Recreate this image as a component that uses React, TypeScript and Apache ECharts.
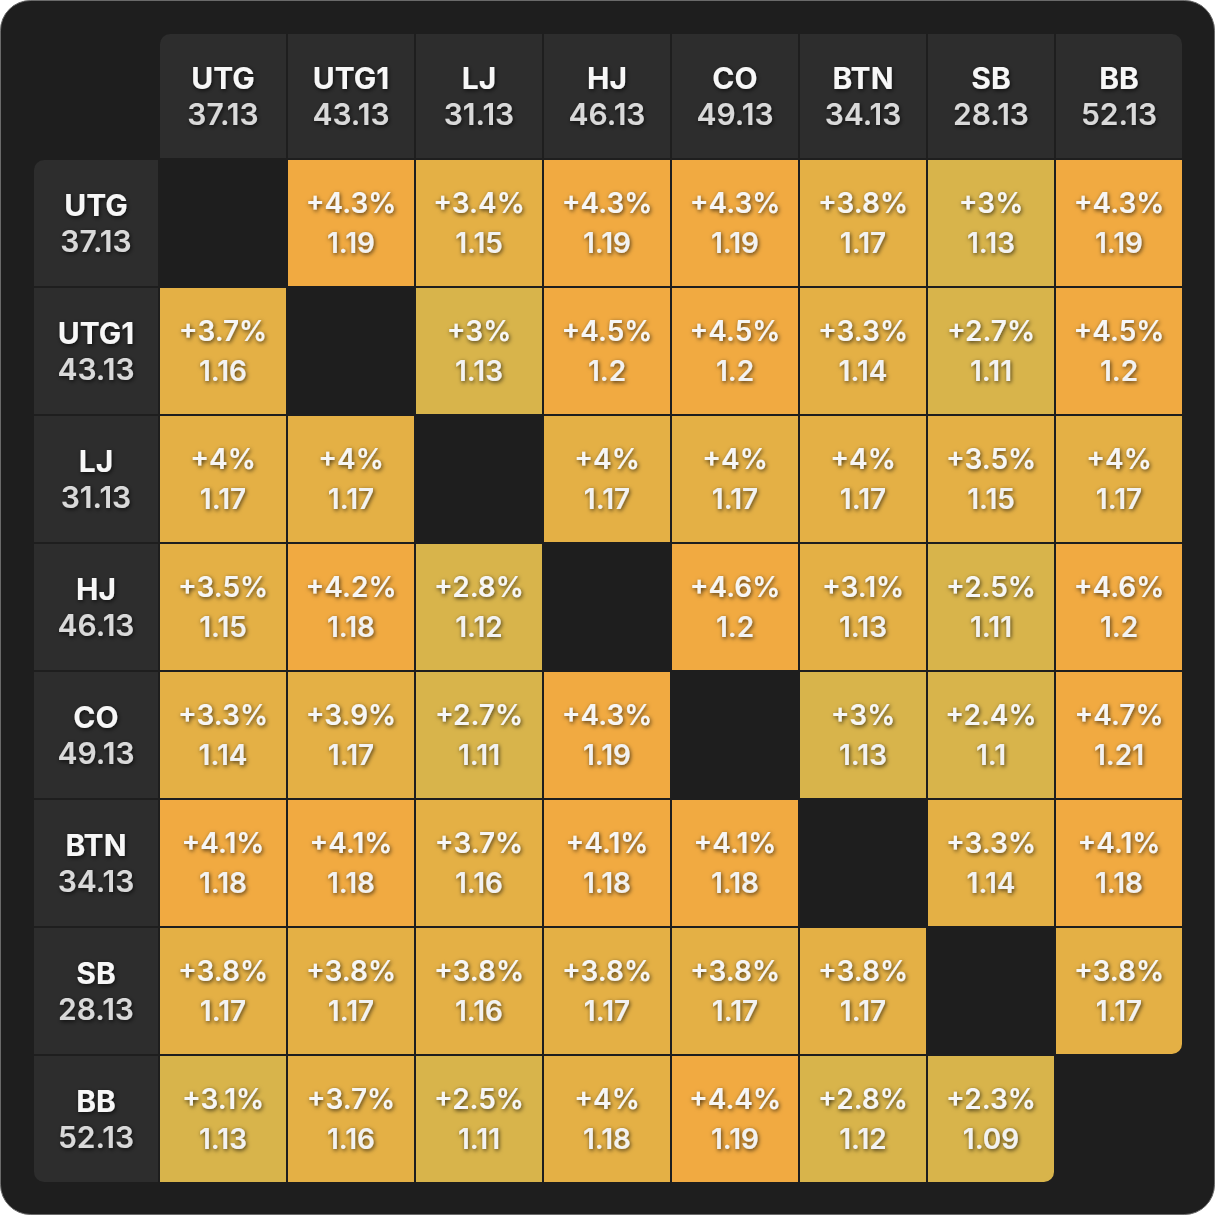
import React, { useEffect, useRef } from "react";
import * as echarts from "echarts";

const positions = ["UTG", "UTG1", "LJ", "HJ", "CO", "BTN", "SB", "BB"];
const stacks = ["37.13", "43.13", "31.13", "46.13", "49.13", "34.13", "28.13", "52.13"];

// rows = hero position, columns = opponent position
const pctRows: (number | null)[][] = [
  [null, 4.3, 3.4, 4.3, 4.3, 3.8, 3, 4.3],
  [3.7, null, 3, 4.5, 4.5, 3.3, 2.7, 4.5],
  [4, 4, null, 4, 4, 4, 3.5, 4],
  [3.5, 4.2, 2.8, null, 4.6, 3.1, 2.5, 4.6],
  [3.3, 3.9, 2.7, 4.3, null, 3, 2.4, 4.7],
  [4.1, 4.1, 3.7, 4.1, 4.1, null, 3.3, 4.1],
  [3.8, 3.8, 3.8, 3.8, 3.8, 3.8, null, 3.8],
  [3.1, 3.7, 2.5, 4, 4.4, 2.8, 2.3, null],
];

const multRows: (string | null)[][] = [
  [null, "1.19", "1.15", "1.19", "1.19", "1.17", "1.13", "1.19"],
  ["1.16", null, "1.13", "1.2", "1.2", "1.14", "1.11", "1.2"],
  ["1.17", "1.17", null, "1.17", "1.17", "1.17", "1.15", "1.17"],
  ["1.15", "1.18", "1.12", null, "1.2", "1.13", "1.11", "1.2"],
  ["1.14", "1.17", "1.11", "1.19", null, "1.13", "1.1", "1.21"],
  ["1.18", "1.18", "1.16", "1.18", "1.18", null, "1.14", "1.18"],
  ["1.17", "1.17", "1.16", "1.17", "1.17", "1.17", null, "1.17"],
  ["1.13", "1.16", "1.11", "1.18", "1.19", "1.12", "1.09", null],
];

// colour tier: 0 = yellow, 1 = amber, 2 = orange
const tierRows: (number | null)[][] = [
  [null, 2, 1, 2, 2, 1, 0, 2],
  [1, null, 0, 2, 2, 1, 0, 2],
  [1, 1, null, 1, 1, 1, 1, 1],
  [1, 2, 0, null, 2, 1, 0, 2],
  [1, 1, 0, 2, null, 0, 0, 2],
  [2, 2, 1, 2, 2, null, 1, 2],
  [1, 1, 1, 1, 1, 1, null, 1],
  [0, 1, 0, 1, 2, 0, 0, null],
];

const tierColors = ["#d8b44b", "#e4b045", "#f1aa41"];

const FONT = "Inter, 'Noto Sans', sans-serif";
const shadow = {
  textShadowColor: "rgba(0,0,0,0.7)",
  textShadowBlur: 4,
  textShadowOffsetX: 1,
  textShadowOffsetY: 1.5,
};

function isEmpty(r: number, c: number) {
  if (r > 7 || c > 7) return true;
  return pctRows[r][c] === null;
}

export default function App() {
  const ref = useRef<HTMLDivElement>(null);
  useEffect(() => {
    document.body.style.margin = "0";
    const chart = echarts.init(ref.current!, undefined, { renderer: "svg" });

    const cellData: any[] = [];
    pctRows.forEach((row, r) =>
      row.forEach((v, c) => {
        if (v !== null) cellData.push([c, r, v, multRows[r][c], tierRows[r][c]]);
      })
    );
    const headerData: any[] = [];
    positions.forEach((_, i) => {
      headerData.push([i, 0, 0]); // column header
      headerData.push([0, i, 1]); // row header
    });

    const RAD = 10;

    chart.setOption({
      animation: false,
      graphic: [
        {
          type: "rect",
          z: -10,
          silent: true,
          shape: { x: 0.5, y: 0.5, width: 1214, height: 1214, r: 30 },
          style: { fill: "#1e1e1e", stroke: "#6a6a6a", lineWidth: 1 },
        },
      ],
      grid: { left: 159, top: 159, width: 1024, height: 1024 },
      xAxis: { type: "category", data: positions, show: false },
      yAxis: { type: "category", data: positions, inverse: true, show: false },
      series: [
        {
          type: "custom",
          clip: false,
          data: cellData,
          renderItem: (params: any, api: any) => {
            const c = api.value(0);
            const r = api.value(1);
            const v = api.value(2);
            const m = cellData[params.dataIndex][3];
            const t = api.value(4);
            const p = api.coord([c, r]);
            const s = api.size([1, 1]);
            const x = p[0] - s[0] / 2;
            const y = p[1] - s[1] / 2;
            const br = isEmpty(r, c + 1) && isEmpty(r + 1, c) && (c === 7 || r === 7) ? RAD : 0;
            return {
              type: "group",
              children: [
                {
                  type: "rect",
                  shape: { x: x + 1, y: y + 1, width: s[0] - 2, height: s[1] - 2, r: [0, 0, br, 0] },
                  style: { fill: tierColors[t] },
                },
                {
                  type: "text",
                  style: {
                    text: "+" + v + "%",
                    x: p[0],
                    y: p[1] - 20,
                    align: "center",
                    verticalAlign: "middle",
                    fill: "#f6f6f6",
                    font: `600 28px ${FONT}`,
                    ...shadow,
                  },
                },
                {
                  type: "text",
                  style: {
                    text: m,
                    x: p[0],
                    y: p[1] + 20,
                    align: "center",
                    verticalAlign: "middle",
                    fill: "#f2f2f2",
                    font: `600 28px ${FONT}`,
                    ...shadow,
                  },
                },
              ],
            };
          },
        },
        {
          type: "custom",
          clip: false,
          data: headerData,
          renderItem: (params: any, api: any) => {
            const c = api.value(0);
            const r = api.value(1);
            const kind = api.value(2);
            const p = api.coord([c, r]);
            const s = api.size([1, 1]);
            let x: number, y: number, w: number, h: number, idx: number, radius: number[];
            const HS = 126;
            if (kind === 0) {
              idx = c;
              w = s[0];
              h = HS;
              x = p[0] - s[0] / 2;
              y = p[1] - s[1] / 2 - HS;
              radius = [idx === 0 ? RAD : 0, idx === 7 ? RAD : 0, 0, 0];
            } else {
              idx = r;
              w = HS;
              h = s[1];
              x = p[0] - s[0] / 2 - HS;
              y = p[1] - s[1] / 2;
              radius = [idx === 0 ? RAD : 0, 0, 0, idx === 7 ? RAD : 0];
            }
            const cx = x + w / 2;
            const cy = y + h / 2;
            return {
              type: "group",
              children: [
                {
                  type: "rect",
                  shape: { x: x + 1, y: y + 1, width: w - 2, height: h - 2, r: radius },
                  style: { fill: "#2d2d2d" },
                },
                {
                  type: "text",
                  style: {
                    text: positions[idx],
                    x: cx,
                    y: cy - 18,
                    align: "center",
                    verticalAlign: "middle",
                    fill: "#f7f7f7",
                    font: `700 30px ${FONT}`,
                    ...shadow,
                  },
                },
                {
                  type: "text",
                  style: {
                    text: stacks[idx],
                    x: cx,
                    y: cy + 18,
                    align: "center",
                    verticalAlign: "middle",
                    fill: "#d9d9d9",
                    font: `600 30px ${FONT}`,
                    ...shadow,
                  },
                },
              ],
            };
          },
        },
      ],
    });
    return () => chart.dispose();
  }, []);
  return <div ref={ref} style={{ width: 1217, height: 1217 }} />;
}
